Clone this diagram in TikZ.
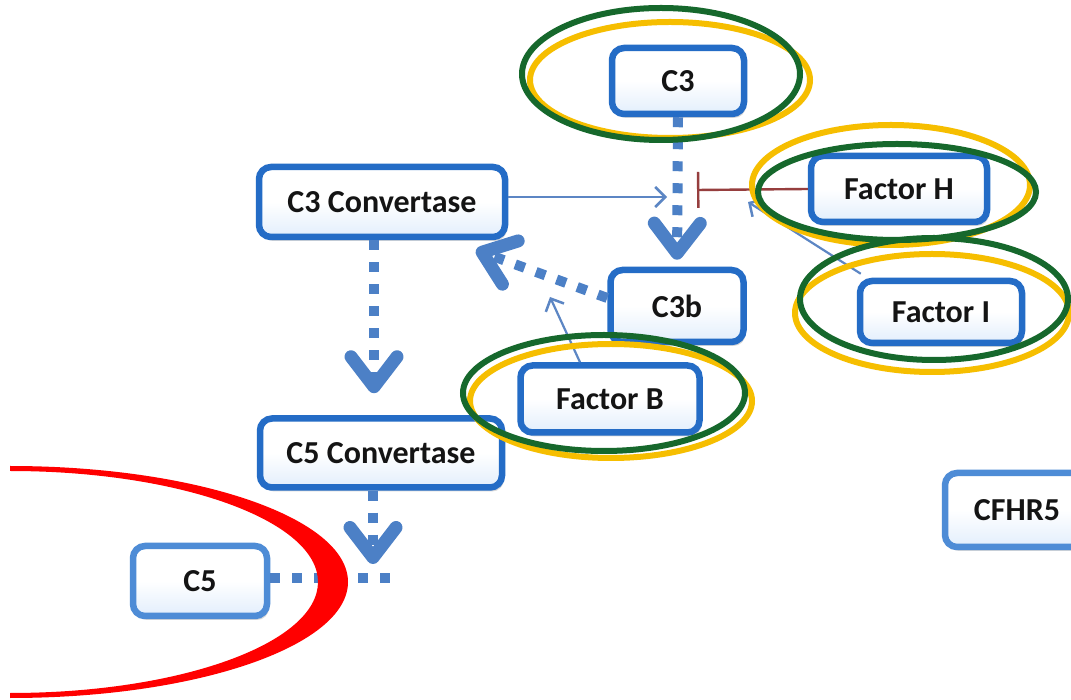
\documentclass[tikz,border=0pt]{standalone}
\usepackage{fontspec}
\setmainfont{Carlito}
\usetikzlibrary{arrows.meta,shadows,calc}

\definecolor{boxblue}{RGB}{36,108,198}
\definecolor{boxblueL}{RGB}{78,140,214}
\definecolor{boxfill}{RGB}{226,238,252}
\definecolor{flowblue}{RGB}{76,128,198}
\definecolor{thinblue}{RGB}{92,134,196}
\definecolor{inhred}{RGB}{150,62,62}
\definecolor{ringgreen}{RGB}{22,104,44}
\definecolor{ringyellow}{RGB}{246,190,0}
\definecolor{hotred}{RGB}{255,0,0}

\tikzset{
  box/.style={rectangle, rounded corners=12pt, line width=6.5pt, draw=boxblue,
    top color=white, bottom color=boxfill, middle color=white, inner sep=0pt,
    font=\fontsize{32}{36}\selectfont\bfseries, text=black!92,
    drop shadow={shadow xshift=2pt, shadow yshift=-4pt, opacity=0.3}},
  lightbox/.style={box, draw=boxblueL},
  size/.style 2 args={minimum width=#1, minimum height=#2},
  flow/.style={draw=flowblue, line width=10pt, dash pattern=on 10pt off 12pt,
    -{Straight Barb[length=30pt, width=46pt, line width=13pt, round]}},
  flowplain/.style={draw=flowblue, line width=10pt, dash pattern=on 10pt off 12pt},
  thin/.style={draw=thinblue, line width=2.2pt,
    -{Straight Barb[length=10pt, width=20pt, line width=2.5pt]}},
  inhibit/.style={draw=inhred, line width=2.4pt, -{Bar[width=36pt, line width=2.4pt]}},
  ringG/.style={draw=ringgreen, line width=6pt},
  ringY/.style={draw=ringyellow, line width=6pt},
}

\begin{document}
\begin{tikzpicture}[x=1pt, y=1pt]
\useasboundingbox (0,0) rectangle (1071,699);
\fill[white] (0,0) rectangle (1071,699);

% pathway nodes
\node[box, size={132pt}{66pt}] (C3) at (678,618) {C3};
\node[box, size={246pt}{70pt}] (C3conv) at (382,497) {C3 Convertase};
\node[box, size={176pt}{66pt}] (FH) at (899,510) {Factor H};
\node[box, size={162pt}{62pt}] (FI) at (941,387) {Factor I};
\node[box, size={133pt}{72pt}] (C3b) at (677,393) {C3b};
\node[box, size={179pt}{67pt}] (FB) at (610,300) {Factor B};
\node[box, size={242pt}{69pt}] (C5conv) at (381,246) {C5 Convertase};
\node[lightbox, size={134pt}{70pt}] (C5) at (200,118) {C5};
\node[lightbox, size={144pt}{74pt}] (CFHR5) at (1017,189) {CFHR5};

% free ends of connectors
\coordinate (a1) at (667,502);
\coordinate (h1) at (697,509);
\coordinate (i1) at (748,497);
\coordinate (b1) at (550,402);
\coordinate (ctip) at (476,449);
\coordinate (jn) at (373,121);
\coordinate (jend) at (396,121);

% thick dotted reaction arrows
\draw[flow, shorten >=7pt] (C3.south) -- (C3b.north);
\draw[flow, shorten >=22pt] ([xshift=-8pt]C3conv.south) -- ([xshift=-7pt]C5conv.north);
\draw[flow, shorten >=14pt] ([xshift=-8pt]C5conv.south) -- (jn);
\draw[flowplain] (C5.east |- jend) -- (jend);
\draw[flow] ([yshift=8pt]C3b.west) -- (ctip);

% thin regulatory arrows
\draw[thin] (C3conv.east |- a1) -- (a1);
\draw[thin] ([xshift=-30pt]FB.north) -- (b1);
\draw[thin] ([xshift=4pt,yshift=4pt]FI.north west) -- (i1);
\draw[inhibit] (FH.west) -- (h1);

% highlight rings
\draw[ringY] (670,619) ellipse [x radius=140pt, y radius=58pt];
\draw[ringG] (661,625) ellipse [x radius=139pt, y radius=66pt];
\draw[ringY] (891,514) ellipse [x radius=139pt, y radius=60pt];
\draw[ringG] (897,507) ellipse [x radius=139pt, y radius=48pt];
\draw[ringY] (932,386) ellipse [x radius=137pt, y radius=59pt];
\draw[ringG] (934,400) ellipse [x radius=134pt, y radius=61pt];
\draw[ringY] (611,298) ellipse [x radius=141pt, y radius=57pt];
\draw[ringG] (604,306) ellipse [x radius=141pt, y radius=58pt];

% red crescent
\fill[hotred] (10,233) arc[start angle=90, end angle=-90, x radius=338pt, y radius=116pt]
  -- (10,6) arc[start angle=-90, end angle=90, x radius=308pt, y radius=111pt] -- cycle;
\end{tikzpicture}
\end{document}
